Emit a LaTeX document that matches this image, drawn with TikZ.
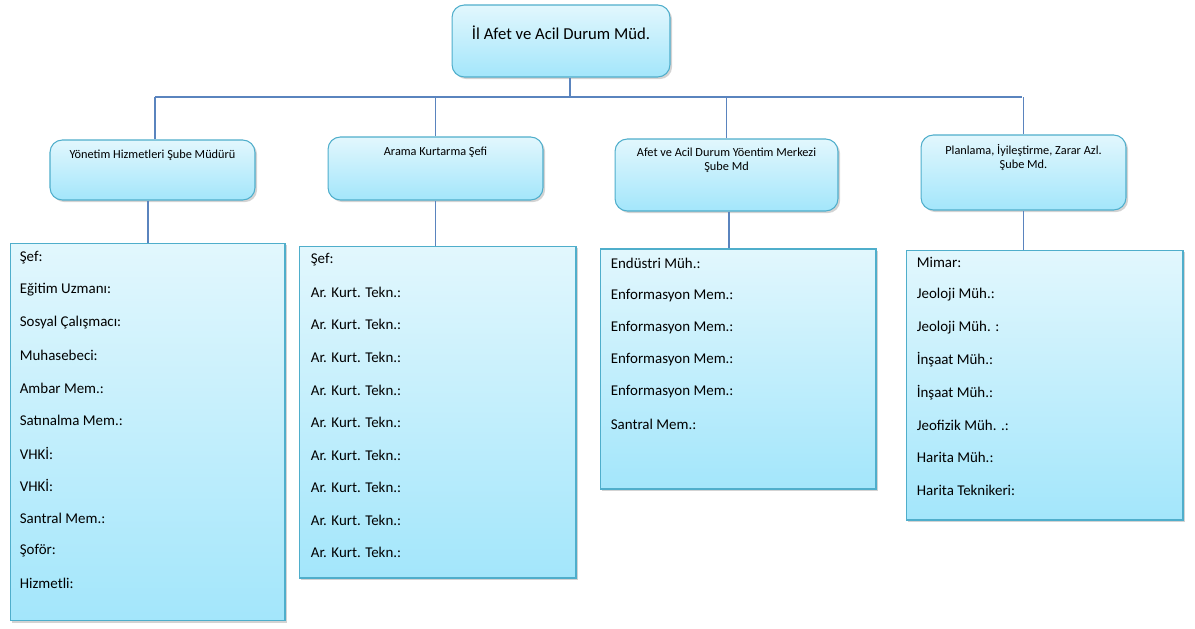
\documentclass[tikz,border=0pt]{standalone}
\usepackage{fontspec}
\setmainfont{Carlito}
\usepackage{tikz}
\usepackage{xcolor}
\usetikzlibrary{
    positioning,
    shadows
}
\definecolor{boxtop}{HTML}{E2F7FD}
\definecolor{boxbot}{HTML}{A3E6FB}
\definecolor{boxline}{HTML}{4FAECB}
\definecolor{linkline}{HTML}{5A84BE}

\begin{document}
\begin{tikzpicture}[x=0.02cm, y=-0.02cm,
    unit/.style={draw=boxline, line width=0.6pt, top color=boxtop, bottom color=boxbot,
                 inner sep=0pt, drop shadow={shadow xshift=1.2pt, shadow yshift=-1.2pt, opacity=0.35}},
    chief/.style={unit, rounded corners=7pt},
    staff/.style={unit},
    link/.style={draw=linkline, line width=0.6pt},
    title/.style={inner sep=0pt, align=center, font=\fontsize{7}{7.6}\selectfont},
    listitem/.style={anchor=west, inner sep=0pt, font=\fontsize{8.5}{9}\selectfont}
]
            \useasboundingbox (0,0) rectangle (1195,628);

            \node[chief, minimum width=4.36cm, minimum height=1.44cm] (mud) at (561,41) {};
            \node[below=0.42cm of mud.north, inner sep=0pt, font=\fontsize{9.5}{11}\selectfont] {İl Afet ve Acil Durum Müd.};

            \node[chief, minimum width=4.1cm,  minimum height=1.2cm]  (yon) at (152.5,170) {};
            \node[chief, minimum width=4.3cm,  minimum height=1.26cm] (ara) at (435.5,168.5) {};
            \node[chief, minimum width=4.46cm, minimum height=1.44cm] (aym) at (726.5,175) {};
            \node[chief, minimum width=4.1cm,  minimum height=1.5cm]  (pla) at (1023.5,172.5) {};

            \node[title, below=0.21cm of yon.north] {Yönetim Hizmetleri Şube Müdürü};
            \node[title, below=0.21cm of ara.north] {Arama Kurtarma Şefi};
            \node[title, below=0.19cm of aym.north] {Afet ve Acil Durum Yöentim Merkezi\\Şube Md};
            \node[title, below=0.2cm of pla.north] {Planlama, İyileştirme, Zarar Azl.\\Şube Md.};

            \node[staff, minimum width=5.5cm,  minimum height=7.56cm] (yonl) at (147.5,432) {};
            \node[staff, minimum width=5.54cm, minimum height=6.64cm] (aral) at (437.5,412) {};
            \node[staff, minimum width=5.52cm, minimum height=4.8cm]  (ayml) at (738,369) {};
            \node[staff, minimum width=5.54cm, minimum height=5.4cm]  (plal) at (1044.5,385) {};

            % staff lists
            \foreach \item [count=\i from 0] in {Şef:, Eğitim Uzmanı:, Sosyal Çalışmacı:, Muhasebeci:, Ambar Mem.:, Satınalma Mem.:, VHKİ:, VHKİ:, Santral Mem.:, Şoför:, Hizmetli:}
                \node[listitem] at ([xshift=0.2cm, yshift=-0.3cm-\i*0.652cm]yonl.north west) {\item};
            \foreach \item [count=\i from 0] in {Şef:, Ar. Kurt. Tekn.:, Ar. Kurt. Tekn.:, Ar. Kurt. Tekn.:, Ar. Kurt. Tekn.:, Ar. Kurt. Tekn.:, Ar. Kurt. Tekn.:, Ar. Kurt. Tekn.:, Ar. Kurt. Tekn.:, Ar. Kurt. Tekn.:}
                \node[listitem] at ([xshift=0.24cm, yshift=-0.28cm-\i*0.652cm]aral.north west) {\item};
            \foreach \item [count=\i from 0] in {Endüstri Müh.:, Enformasyon Mem.:, Enformasyon Mem.:, Enformasyon Mem.:, Enformasyon Mem.:, Santral Mem.:}
                \node[listitem] at ([xshift=0.22cm, yshift=-0.29cm-\i*0.645cm]ayml.north west) {\item};
            \foreach \item [count=\i from 0] in {Mimar:, Jeoloji Müh.:, Jeoloji Müh. :, İnşaat Müh.:, İnşaat Müh.:, Jeofizik Müh. .:, Harita Müh.:, Harita Teknikeri:}
                \node[listitem] at ([xshift=0.22cm, yshift=-0.25cm-\i*0.652cm]plal.north west) {\item};

            % connectors
            \coordinate (busl) at (155,97);
            \coordinate (busr) at (1022,97);
            \draw[link] ([xshift=0.18cm]mud.south) -- ([xshift=0.18cm]mud.south |- busl);
            \draw[link] (busl) -- (busr);
            \draw[link] ([xshift=0.05cm]yon.north) -- ([xshift=0.05cm]yon.north |- busl);
            \draw[link] (ara.north) -- (ara.north |- busl);
            \draw[link] (aym.north) -- (aym.north |- busl);
            \draw[link] (pla.north) -- (pla.north |- busl);

            \draw[link] ([xshift=-0.09cm]yon.south) -- ([xshift=-0.09cm]yon.south |- yonl.north);
            \draw[link] (ara.south) -- (ara.south |- aral.north);
            \draw[link] ([xshift=0.05cm]aym.south) -- ([xshift=0.05cm]aym.south |- ayml.north);
            \draw[link] (pla.south) -- (pla.south |- plal.north);
            \end{tikzpicture}
\end{document}
